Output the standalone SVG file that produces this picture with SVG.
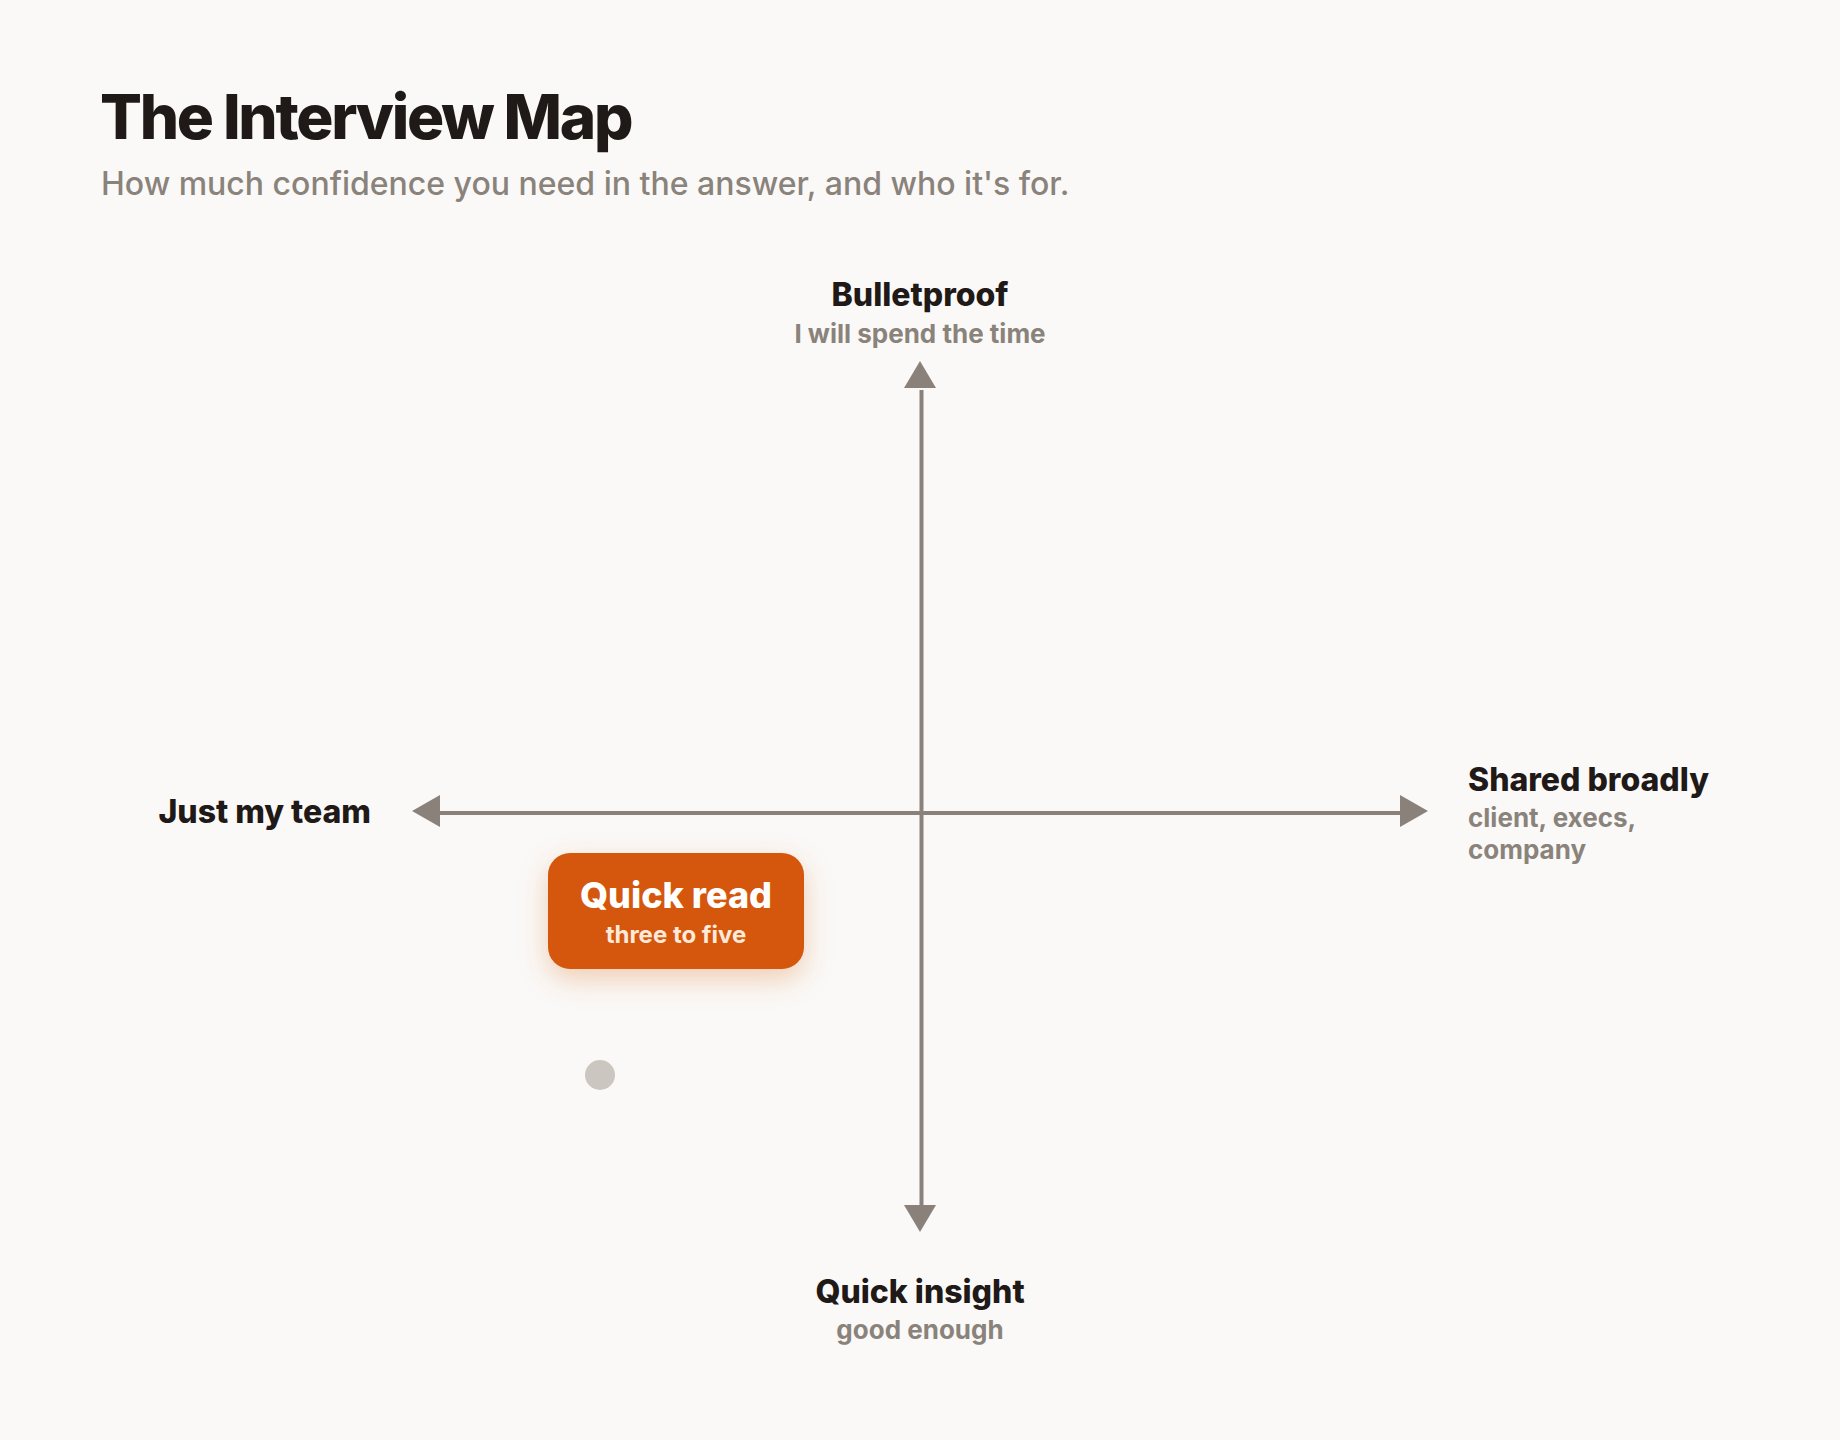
<svg xmlns="http://www.w3.org/2000/svg" width="1840" height="1440" viewBox="0 0 1840 1440">
<style>
  text { font-family: Inter, "Noto Sans", "Liberation Sans", sans-serif; }
  .title { font-size: 62px; font-weight: 800; fill: #1f1a17; letter-spacing: -2.3px; }
  .subtitle { font-size: 32px; font-weight: 500; fill: #8a837b; }
  .axis-label { font-size: 32px; font-weight: 800; fill: #1f1a17; }
  .axis-sub { font-size: 26px; font-weight: 650; fill: #8a837b; }
  .axis { stroke: #8a827a; stroke-width: 4; fill: none; }
  .head { fill: #8a827a; }
  .node-title { font-size: 36px; font-weight: 800; fill: #ffffff; }
  .node-sub { font-size: 24px; font-weight: 650; fill: #ffe9d9; }
</style>
<defs>
  <filter id="glow" x="-30%" y="-40%" width="160%" height="200%">
    <feDropShadow dx="0" dy="10" stdDeviation="14" flood-color="#d4560c" flood-opacity="0.28"/>
  </filter>
</defs>
<rect width="1840" height="1440" fill="#faf9f7"/>

<g id="header">
  <text class="title" x="100" y="139">The Interview Map</text>
  <text class="subtitle" x="101" y="195">How much confidence you need in the answer, and who it's for.</text>
</g>

<g id="connectors">
  <line class="axis" x1="921.5" y1="390" x2="921.5" y2="1206"/>
  <line class="axis" x1="439" y1="813" x2="1401" y2="813"/>
  <polygon class="head" points="920,361 904,388 936,388"/>
  <polygon class="head" points="920,1232 904,1205 936,1205"/>
  <polygon class="head" points="412,811 440,795 440,827"/>
  <polygon class="head" points="1428,811 1400,795 1400,827"/>
</g>

<g id="label-top">
  <text class="axis-label" x="920" y="306" text-anchor="middle">Bulletproof</text>
  <text class="axis-sub" x="920" y="343" text-anchor="middle">I will spend the time</text>
</g>

<g id="label-left">
  <text class="axis-label" x="371" y="823" text-anchor="end">Just my team</text>
</g>

<g id="label-right">
  <text class="axis-label" x="1468" y="791">Shared broadly</text>
  <text class="axis-sub" x="1468" y="827">client, execs,</text>
  <text class="axis-sub" x="1468" y="859">company</text>
</g>

<g id="label-bottom">
  <text class="axis-label" x="920" y="1303" text-anchor="middle">Quick insight</text>
  <text class="axis-sub" x="920" y="1339" text-anchor="middle">good enough</text>
</g>

<g id="node-quick-read">
  <rect x="548" y="853" width="256" height="116" rx="22" fill="#d5570c" filter="url(#glow)"/>
  <text class="node-title" x="676" y="908" text-anchor="middle">Quick read</text>
  <text class="node-sub" x="676" y="943" text-anchor="middle">three to five</text>
</g>

<g id="node-dot">
  <circle cx="600" cy="1075" r="15" fill="#ccc6c1"/>
</g>
</svg>
